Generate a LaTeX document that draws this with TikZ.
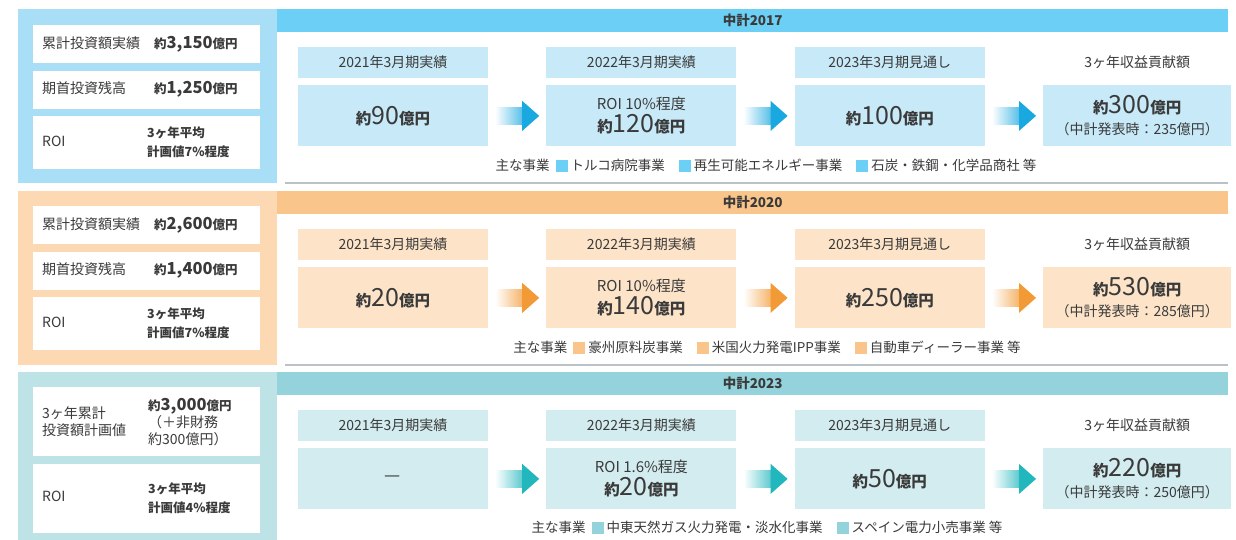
\documentclass[tikz,border=0pt]{standalone}
\usepackage{fontspec}
\setmainfont{Noto Sans CJK JP}
\usepackage{tikz}
\usetikzlibrary{positioning,calc}
\definecolor{ink}{HTML}{3A3A3A}
\definecolor{bluepanel}{HTML}{A8DFF6}
\definecolor{bluehdr}{HTML}{6CCFF5}
\definecolor{bluebox}{HTML}{C8EAF8}
\definecolor{bluearr}{HTML}{1AA8E0}
\definecolor{orgpanel}{HTML}{FCD9B2}
\definecolor{orghdr}{HTML}{FAC58A}
\definecolor{orgbox}{HTML}{FDE4C9}
\definecolor{orgarr}{HTML}{F29A36}
\definecolor{tealpanel}{HTML}{BEE3E7}
\definecolor{tealhdr}{HTML}{94D3DB}
\definecolor{tealbox}{HTML}{D3ECEF}
\definecolor{tealarr}{HTML}{22B6BD}
\definecolor{sepgray}{HTML}{B9C3C7}
\newcommand\bigval[1]{{\bfseries\fontsize{15.5}{18}\selectfont 約}{\fontsize{25}{26}\selectfont #1}{\bfseries\fontsize{15.5}{18}\selectfont 億円}}
\newcommand\smval[1]{{\bfseries\fontsize{12.5}{15}\selectfont 約{\fontsize{16.5}{18}\selectfont #1}億円}}
\newcommand\legsq[1]{\textcolor{#1}{\rule[-1.5pt]{12pt}{12pt}}\hspace{3pt}}
\newcommand\flowarr[3]{%
  \shade[left color=white,right color=#3!75] ($(#1.east)+(7,-8.5)$) rectangle ($(#2.west)+(-23,8.5)$);
  \fill[#3] ($(#2.west)+(-24,-15)$) -- ($(#2.west)+(-7,0)$) -- ($(#2.west)+(-24,15)$) -- cycle;}

\begin{document}
\begin{tikzpicture}[x=1pt,y=-1pt,
node distance=7pt and 58pt,
every node/.style={text=ink,inner sep=0pt},
panel/.style={minimum width=259pt,minimum height=174pt,anchor=north west},
hdr/.style={minimum width=951pt,minimum height=23pt,anchor=north west,font=\bfseries\fontsize{13.5}{15}\selectfont},
info/.style={fill=white,minimum width=227pt,text width=209pt,align=left,inner xsep=9pt,anchor=north west,font=\fontsize{14}{16}\selectfont},
yearbox/.style={minimum width=190pt,minimum height=31pt,font=\fontsize{14}{16}\selectfont},
valbox/.style={minimum width=190pt,minimum height=61pt,align=center,font=\fontsize{15}{20}\selectfont},
legend/.style={font=\fontsize{13.5}{15}\selectfont},
sep/.style={draw=sepgray,line width=1.5pt}
]
\useasboundingbox[fill=white] (0,0) rectangle (1236,540);

% 中計2017
\node[panel,fill=bluepanel] (p1) at (18,9) {};
\node[hdr,fill=bluehdr] (h1) at (277,9) {中計2017};
\node[info,minimum height=38pt] (k11) at (33,25) {\makebox[112pt][l]{累計投資額実績}\smval{3,150}};
\node[info,minimum height=38pt,below=of k11] (k12) {\makebox[112pt][l]{期首投資残高}\smval{1,250}};
\node[info,minimum height=53pt,below=of k12] (k13) {\makebox[105pt][l]{ROI}\parbox[c]{100pt}{\bfseries\fontsize{12.5}{15}\selectfont 3ヶ年平均\\[4pt]計画値7\%程度}};
\node[yearbox,fill=bluebox] (y11) at (393,62.5) {2021年3月期実績};
\node[yearbox,fill=bluebox,right=of y11] (y12) {2022年3月期実績};
\node[yearbox,fill=bluebox,right=of y12] (y13) {2023年3月期見通し};
\node[yearbox,minimum width=188pt,right=of y13] (y14) {3ヶ年収益貢献額};
\node[valbox,fill=bluebox,below=of y11] (v11) {\bigval{90}};
\node[valbox,fill=bluebox,below=of y12] (v12) {ROI 10\%程度\\[3pt]\bigval{120}};
\node[valbox,fill=bluebox,below=of y13] (v13) {\bigval{100}};
\node[valbox,minimum width=188pt,fill=bluebox,below=of y14] (v14) {\bigval{300}\\[1pt]{\fontsize{14}{16}\selectfont （中計発表時：235億円）}};
\flowarr{v11}{v12}{bluearr}
\flowarr{v12}{v13}{bluearr}
\flowarr{v13}{v14}{bluearr}
\node[legend] (l1) at (766,165) {主な事業\hspace{6pt}\legsq{bluehdr}トルコ病院事業\hspace{14pt}\legsq{bluehdr}再生可能エネルギー事業\hspace{14pt}\legsq{bluehdr}石炭・鉄鋼・化学品商社 等};
\draw[sep] (285,183) -- (1228,183);

% 中計2020
\node[panel,fill=orgpanel] (p2) at (18,191) {};
\node[hdr,fill=orghdr] (h2) at (277,191) {中計2020};
\node[info,minimum height=38pt] (k21) at (33,206) {\makebox[112pt][l]{累計投資額実績}\smval{2,600}};
\node[info,minimum height=38pt,below=of k21] (k22) {\makebox[112pt][l]{期首投資残高}\smval{1,400}};
\node[info,minimum height=53pt,below=of k22] (k23) {\makebox[105pt][l]{ROI}\parbox[c]{100pt}{\bfseries\fontsize{12.5}{15}\selectfont 3ヶ年平均\\[4pt]計画値7\%程度}};
\node[yearbox,fill=orgbox] (y21) at (393,244.5) {2021年3月期実績};
\node[yearbox,fill=orgbox,right=of y21] (y22) {2022年3月期実績};
\node[yearbox,fill=orgbox,right=of y22] (y23) {2023年3月期見通し};
\node[yearbox,minimum width=188pt,right=of y23] (y24) {3ヶ年収益貢献額};
\node[valbox,fill=orgbox,below=of y21] (v21) {\bigval{20}};
\node[valbox,fill=orgbox,below=of y22] (v22) {ROI 10\%程度\\[3pt]\bigval{140}};
\node[valbox,fill=orgbox,below=of y23] (v23) {\bigval{250}};
\node[valbox,minimum width=188pt,fill=orgbox,below=of y24] (v24) {\bigval{530}\\[1pt]{\fontsize{14}{16}\selectfont （中計発表時：285億円）}};
\flowarr{v21}{v22}{orgarr}
\flowarr{v22}{v23}{orgarr}
\flowarr{v23}{v24}{orgarr}
\node[legend] (l2) at (767,347) {主な事業\hspace{6pt}\legsq{orghdr}豪州原料炭事業\hspace{14pt}\legsq{orghdr}米国火力発電IPP事業\hspace{14pt}\legsq{orghdr}自動車ディーラー事業 等};
\draw[sep] (285,365) -- (1228,365);

% 中計2023
\node[panel,fill=tealpanel,minimum height=168pt] (p3) at (18,372) {};
\node[hdr,fill=tealhdr] (h3) at (277,372) {中計2023};
\node[info,minimum height=69pt] (k31) at (33,387) {\parbox[c]{106pt}{3ヶ年累計\\[1pt]投資額計画値}\parbox[c]{100pt}{\smval{3,000}\\[1pt]（＋非財務\\[1pt]約300億円）}};
\node[info,minimum height=69pt,below=of k31] (k32) {\makebox[106pt][l]{ROI}\parbox[c]{100pt}{\bfseries\fontsize{12.5}{15}\selectfont 3ヶ年平均\\[4pt]計画値4\%程度}};
\node[yearbox,fill=tealbox] (y31) at (393,425.5) {2021年3月期実績};
\node[yearbox,fill=tealbox,right=of y31] (y32) {2022年3月期実績};
\node[yearbox,fill=tealbox,right=of y32] (y33) {2023年3月期見通し};
\node[yearbox,minimum width=188pt,right=of y33] (y34) {3ヶ年収益貢献額};
\node[valbox,fill=tealbox,below=of y31] (v31) {{\fontsize{18}{20}\selectfont —}};
\node[valbox,fill=tealbox,below=of y32] (v32) {ROI 1.6\%程度\\[3pt]\bigval{20}};
\node[valbox,fill=tealbox,below=of y33] (v33) {\bigval{50}};
\node[valbox,minimum width=188pt,fill=tealbox,below=of y34] (v34) {\bigval{220}\\[1pt]{\fontsize{14}{16}\selectfont （中計発表時：250億円）}};
\flowarr{v31}{v32}{tealarr}
\flowarr{v32}{v33}{tealarr}
\flowarr{v33}{v34}{tealarr}
\node[legend] (l3) at (767,528) {主な事業\hspace{6pt}\legsq{tealhdr}中東天然ガス火力発電・淡水化事業\hspace{14pt}\legsq{tealhdr}スペイン電力小売事業 等};
\end{tikzpicture}
\end{document}
